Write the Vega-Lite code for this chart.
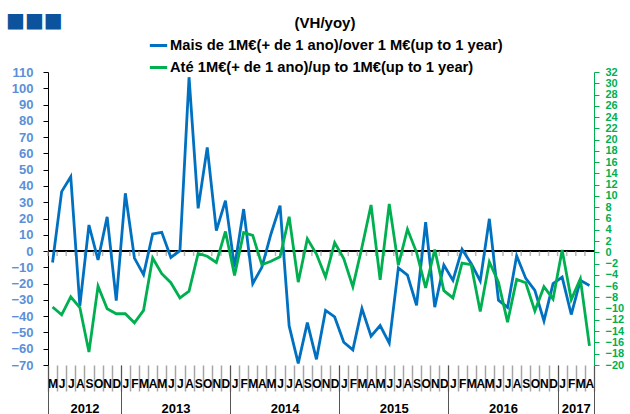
{
  "$schema": "https://vega.github.io/schema/vega-lite/v6.json",
  "width": 546,
  "height": 293,
  "autosize": "none",
  "padding": {"left": 48, "top": 72, "right": 36, "bottom": 49},
  "background": "white",
  "title": {"text": "■■■", "anchor": "start", "frame": "group", "orient": "top", "offset": -35, "dx": -42, "fontSize": 20, "font": "DejaVu Sans", "color": "#0b539c", "baseline": "bottom"},
  "data": {"values": [
    {"d": "2012-05", "a": -7, "b": -9.7},
    {"d": "2012-06", "a": 36.5, "b": -11.1},
    {"d": "2012-07", "a": 45.7, "b": -7.9},
    {"d": "2012-08", "a": -33.6, "b": -9.8},
    {"d": "2012-09", "a": 16, "b": -17.7},
    {"d": "2012-10", "a": -5.5, "b": -6},
    {"d": "2012-11", "a": 21, "b": -10},
    {"d": "2012-12", "a": -30.5, "b": -10.9},
    {"d": "2013-01", "a": 35.5, "b": -10.9},
    {"d": "2013-02", "a": -4.3, "b": -12.5},
    {"d": "2013-03", "a": -14.5, "b": -10.3},
    {"d": "2013-04", "a": 10.5, "b": -1},
    {"d": "2013-05", "a": 11.5, "b": -3.8},
    {"d": "2013-06", "a": -3.9, "b": -5.4},
    {"d": "2013-07", "a": 0.2, "b": -8.1},
    {"d": "2013-08", "a": 106.8, "b": -6.9},
    {"d": "2013-09", "a": 26.2, "b": -0.2},
    {"d": "2013-10", "a": 63.7, "b": -0.7},
    {"d": "2013-11", "a": 12.5, "b": -1.8},
    {"d": "2013-12", "a": 31, "b": 3.7},
    {"d": "2014-01", "a": -10, "b": -4.1},
    {"d": "2014-02", "a": 25.8, "b": 3.5},
    {"d": "2014-03", "a": -20, "b": 3},
    {"d": "2014-04", "a": -10, "b": -2.2},
    {"d": "2014-05", "a": 10.5, "b": -1.6},
    {"d": "2014-06", "a": 27.9, "b": -0.8},
    {"d": "2014-07", "a": -46, "b": 6.3},
    {"d": "2014-08", "a": -69, "b": -5.3},
    {"d": "2014-09", "a": -44, "b": 2.4},
    {"d": "2014-10", "a": -66.5, "b": -0.3},
    {"d": "2014-11", "a": -36.5, "b": -4.4},
    {"d": "2014-12", "a": -40.5, "b": 1.7},
    {"d": "2015-01", "a": -56, "b": -1.1},
    {"d": "2015-02", "a": -60.7, "b": -6.1},
    {"d": "2015-03", "a": -35.3, "b": 0.9},
    {"d": "2015-04", "a": -52.3, "b": 8.4},
    {"d": "2015-05", "a": -45.8, "b": -4.9},
    {"d": "2015-06", "a": -56.6, "b": 8.6},
    {"d": "2015-07", "a": -10.3, "b": -2.3},
    {"d": "2015-08", "a": -14.8, "b": 4.1},
    {"d": "2015-09", "a": -33.3, "b": 0},
    {"d": "2015-10", "a": 17.8, "b": -6.3},
    {"d": "2015-11", "a": -34.5, "b": 0.5},
    {"d": "2015-12", "a": -8.6, "b": -6.8},
    {"d": "2016-01", "a": -18, "b": -8.1},
    {"d": "2016-02", "a": 1.1, "b": -1.9},
    {"d": "2016-03", "a": -7.6, "b": -2.2},
    {"d": "2016-04", "a": -18.4, "b": -10.5},
    {"d": "2016-05", "a": 19.8, "b": -1.7},
    {"d": "2016-06", "a": -30.2, "b": -5.3},
    {"d": "2016-07", "a": -34.6, "b": -12.4},
    {"d": "2016-08", "a": -2.9, "b": -4.8},
    {"d": "2016-09", "a": -16.8, "b": -5.4},
    {"d": "2016-10", "a": -24.2, "b": -10.4},
    {"d": "2016-11", "a": -42.9, "b": -6.1},
    {"d": "2016-12", "a": -20, "b": -8.3},
    {"d": "2017-01", "a": -16, "b": 0.4},
    {"d": "2017-02", "a": -39, "b": -8.4},
    {"d": "2017-03", "a": -18, "b": -4.7},
    {"d": "2017-04", "a": -21.1, "b": -16.6}
  ]},
  "layer": [
    {
      "mark": {"type": "rule", "color": "black", "strokeWidth": 1.5},
      "encoding": {
        "y": {"datum": 0, "type": "quantitative", "scale": {"domain": [-70, 110], "nice": false, "zero": false}, "axis": null}
      }
    },
    {
      "mark": {"type": "tick", "color": "#999999", "size": 5, "thickness": 1.5, "orient": "vertical", "yOffset": 2.5},
      "encoding": {
        "x": {"field": "d", "type": "ordinal", "bandPosition": 0, "scale": {"type": "band", "paddingInner": 0, "paddingOuter": 0}, "axis": null},
        "y": {"datum": 0, "type": "quantitative", "scale": {"domain": [-70, 110], "nice": false, "zero": false}, "axis": null}
      }
    },
    {
      "mark": {"type": "line", "strokeWidth": 2.8},
      "encoding": {
        "x": {"field": "d", "type": "ordinal", "bandPosition": 0.5, "scale": {"type": "band", "paddingInner": 0, "paddingOuter": 0},
          "axis": {"orient": "bottom", "title": null, "domain": false, "tickBand": "extent", "tickSize": 26, "tickColor": "#a6a6a6", "tickWidth": 1.5, "labelPadding": -13, "labelAngle": 0, "labelOverlap": false, "labelFont": "Liberation Sans", "labelFontWeight": "bold", "labelFontSize": 12, "labelColor": "black",
            "labelExpr": "['J','F','M','A','M','J','J','A','S','O','N','D'][toNumber(substring(datum.value,5,7))-1]"}},
        "y": {"field": "a", "type": "quantitative", "scale": {"domain": [-70, 110], "nice": false, "zero": false},
          "axis": {"orient": "left", "title": null, "grid": false, "values": [-70,-60,-50,-40,-30,-20,-10,0,10,20,30,40,50,60,70,80,90,100,110], "domainColor": "black", "tickColor": "black", "tickSize": 5, "labelPadding": 10, "labelFont": "Liberation Sans", "labelFontWeight": "bold", "labelFontSize": 13, "labelColor": "#5b8fd8"}},
        "color": {"datum": "Mais de 1M€(+ de 1 ano)/over 1 M€(up to 1 year)", "type": "nominal", "legend": {"title": "(VH/yoy)"}}
      }
    },
    {
      "mark": {"type": "line", "strokeWidth": 2.8},
      "encoding": {
        "x": {"field": "d", "type": "ordinal", "bandPosition": 0.5, "scale": {"type": "band", "paddingInner": 0, "paddingOuter": 0}, "axis": null},
        "y": {"field": "b", "type": "quantitative", "scale": {"domain": [-20, 32], "nice": false, "zero": false},
          "axis": {"orient": "right", "title": null, "grid": false, "values": [-20,-18,-16,-14,-12,-10,-8,-6,-4,-2,0,2,4,6,8,10,12,14,16,18,20,22,24,26,28,30,32], "domainColor": "#00b050", "tickColor": "#00b050", "tickSize": 5, "labelPadding": 6, "labelFont": "Liberation Sans", "labelFontWeight": "bold", "labelFontSize": 11, "labelColor": "#00b050", "labelOverlap": false}},
        "color": {"datum": "Até 1M€(+ de 1 ano)/up to 1M€(up to 1 year)", "type": "nominal", "legend": {"title": "(VH/yoy)"}}
      }
    },
    {
      "data": {"values": [{"c": 0}, {"c": 60}]},
      "mark": {"type": "rule", "opacity": 0},
      "encoding": {
        "x": {"field": "c", "type": "quantitative", "scale": {"domain": [0, 60], "nice": false, "zero": false},
          "axis": {"orient": "bottom", "title": null, "domain": false, "grid": false, "values": [0, 4, 8, 14, 20, 26, 32, 38, 44, 50, 56, 58, 60], "tickSize": 49, "tickColor": "#555555", "tickWidth": 1,
            "tickOpacity": {"condition": {"test": "indexof([0,8,20,32,44,56,60], datum.value) >= 0", "value": 1}, "value": 0},
            "labelExpr": "datum.value == 4 ? '2012' : datum.value == 14 ? '2013' : datum.value == 26 ? '2014' : datum.value == 38 ? '2015' : datum.value == 50 ? '2016' : datum.value == 58 ? '2017' : ''",
            "labelPadding": -12, "labelOverlap": false, "labelFlush": false, "labelBound": false, "labelFont": "Liberation Sans", "labelFontWeight": "bold", "labelFontSize": 13, "labelColor": "black"}}
      }
    }
  ],
  "resolve": {"scale": {"x": "independent", "y": "independent"}, "axis": {"x": "independent", "y": "independent"}},
  "config": {
    "view": {"stroke": null},
    "font": "Liberation Sans",
    "range": {"category": ["#0070c0", "#00b050"]},
    "legend": {"orient": "none", "legendX": 100, "legendY": -56, "direction": "vertical", "titleAnchor": "middle", "titleAlign": "center", "titleFont": "Liberation Sans", "titleFontSize": 15, "titleFontWeight": "bold", "titleColor": "black", "labelFont": "Liberation Sans", "labelFontSize": 14.7, "labelFontWeight": "bold", "labelColor": "black", "labelLimit": 600, "symbolType": "stroke", "symbolStrokeWidth": 3, "symbolSize": 300, "rowPadding": 4, "titlePadding": 4, "padding": 0, "labelOffset": 1}
  }
}
